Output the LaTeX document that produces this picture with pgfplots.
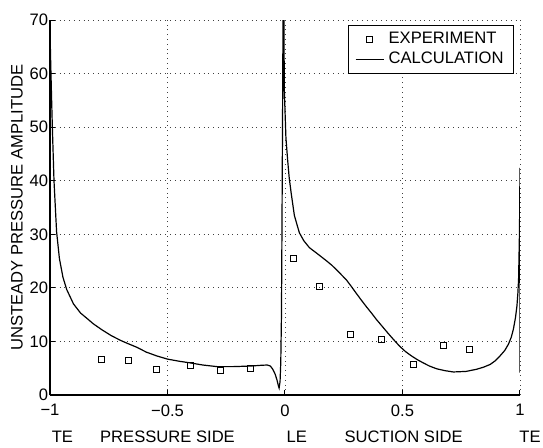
\documentclass[border=0pt]{standalone}
\usepackage{fontspec}
\setmainfont{Liberation Sans}
\usepackage{pgfplots}
\pgfplotsset{compat=1.18}
\pgfplotsset{shortline/.style={legend image code/.code={\draw[##1] (0.05cm,0cm) -- (0.55cm,0cm);}}}
\newcommand{\lblfont}{\fontsize{8.3}{9.5}\selectfont}
\begin{document}
\begin{tikzpicture}
\useasboundingbox (-25pt,-26pt) rectangle (246.5pt,197.5pt);
\begin{axis}[at={(0,0)}, anchor=south west, scale only axis,
  width=235pt, height=187.5pt,
  xmin=-1, xmax=1, ymin=0, ymax=70,
  xtick={-1,-0.5,0,0.5,1}, xticklabels={−1,−0.5,0,0.5,1},
  ytick={0,10,...,70},
  axis x line*=bottom, axis y line*=left,
  axis line style={line width=0.6pt},
  tick align=inside, major tick length=2.5pt,
  tick style={black, line width=0.5pt},
  grid=major, major grid style={dotted, black!75, line width=0.45pt},
  ticklabel style={font=\lblfont},
  yticklabel style={inner xsep=0.8pt},
  xticklabel style={yshift=-1.2pt},
  /pgf/number format/assume math mode=true,
  ylabel={UNSTEADY PRESSURE AMPLITUDE},
  ylabel style={at={(axis description cs:-0.0702,0.5)}, anchor=center, font=\lblfont},
  clip mode=individual,
  legend style={at={(rel axis cs:0.9875,0.987)}, anchor=north east, draw=black,
    line width=0.5pt, font=\lblfont, inner ysep=1.5pt, inner xsep=3pt, row sep=-1.5pt},
  legend cell align=left,
]
\addplot[only marks, mark=square, mark size=1.5pt, mark options={line width=0.5pt, black}]
coordinates {
(-0.780,6.7) (-0.668,6.4) (-0.546,4.7) (-0.404,5.5) (-0.275,4.5) (-0.146,4.9)
(0.037,25.4) (0.146,20.3) (0.278,11.3) (0.410,10.4) (0.548,5.7) (0.674,9.3) (0.785,8.5)
};
\addlegendentry{EXPERIMENT}
\addplot[black, line width=0.6pt, mark=none, shortline]
coordinates {
(-1.000,68) (-0.997,62) (-0.993,55) (-0.990,50) (-0.983,40) (-0.972,30.5)
(-0.960,25.5) (-0.945,22) (-0.929,19.7) (-0.900,17) (-0.870,15.3) (-0.840,14.2)
(-0.816,13.3) (-0.780,12.2) (-0.740,11.1) (-0.700,10.2) (-0.674,9.7) (-0.630,8.9)
(-0.590,8.0) (-0.546,7.3) (-0.500,6.7) (-0.450,6.3) (-0.404,6.0) (-0.350,5.6)
(-0.290,5.3) (-0.220,5.3) (-0.149,5.4) (-0.100,5.55) (-0.075,5.6) (-0.062,5.4)
(-0.052,4.8) (-0.042,3.9) (-0.034,2.8) (-0.028,1.7) (-0.025,1.3) (-0.021,2.5)
(-0.018,6) (-0.015,15) (-0.013,30) (-0.010,55) (-0.008,75) (-0.005,75)
(-0.003,57) (0.004,48) (0.011,44) (0.018,40.5) (0.026,37.8) (0.040,33.5)
(0.061,30.3) (0.080,28.8) (0.104,27.5) (0.140,26.3) (0.175,25.1) (0.200,24.2)
(0.230,22.9) (0.261,21.5) (0.280,20.4) (0.303,19.0) (0.325,17.7) (0.346,16.5)
(0.368,15.3) (0.389,14.1) (0.414,12.8) (0.439,11.5) (0.463,10.3) (0.488,9.1)
(0.513,8.1) (0.538,7.3) (0.563,6.6) (0.588,6.0) (0.615,5.4) (0.645,4.9)
(0.680,4.55) (0.716,4.3) (0.770,4.4) (0.815,4.8) (0.845,5.2)
(0.873,5.7) (0.895,6.4) (0.915,7.3) (0.935,8.3) (0.951,9.5) (0.963,10.8) (0.972,12.3)
(0.981,14.5) (0.987,16.6) (0.991,19) (0.994,21.6)
(0.998,30.9) (1.000,42.4) (1.000,4.2)
};
\addlegendentry{CALCULATION}
\node[font=\lblfont] at (axis cs:-0.947,-7.84) {TE};
\node[font=\lblfont] at (axis cs:-0.500,-7.84) {PRESSURE SIDE};
\node[font=\lblfont] at (axis cs:0.050,-7.84) {LE};
\node[font=\lblfont] at (axis cs:0.505,-7.84) {SUCTION SIDE};
\node[font=\lblfont] at (axis cs:1.043,-7.84) {TE};
\end{axis}
\end{tikzpicture}
\end{document}
